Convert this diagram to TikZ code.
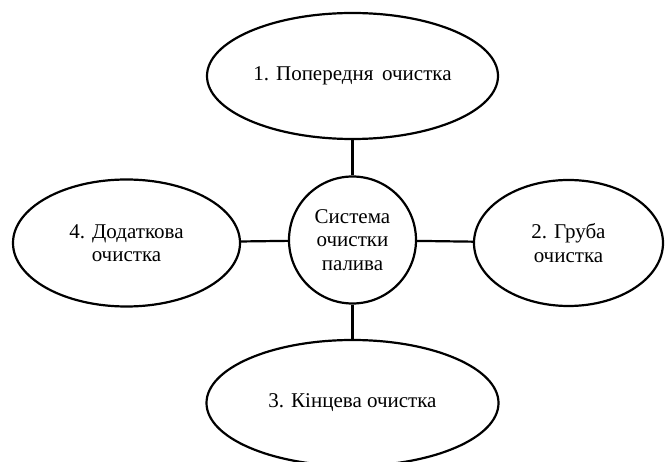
\documentclass[tikz,border=0pt]{standalone}
\usepackage{fontspec}
\setmainfont{Liberation Serif}
\usetikzlibrary{shapes.geometric}

\begin{document}
\begin{tikzpicture}[x=1pt, y=-1pt, line width=2.2pt, every node/.style={draw, ellipse, inner sep=0pt, align=center, font=\fontsize{21}{23.5}\selectfont}]
    \useasboundingbox (0,0) rectangle (665,462);
    \clip (0,0) rectangle (665,462);
    \node[circle, minimum size=127pt] (c) at (352.5,240) {Система\\очистки\\палива};
    \node[minimum width=291pt, minimum height=126pt] (t) at (352.5,76) {1. Попередня\ \,очистка};
    \node[minimum width=189pt, minimum height=126pt] (r) at (568.5,243) {2. Груба\\очистка};
    \node[minimum width=292pt, minimum height=126pt] (b) at (352.5,403) {3. Кінцева очистка};
    \node[minimum width=227pt, minimum height=127pt] (l) at (126.5,243) {4. Додаткова\\очистка};
    \draw (c) -- (t);
    \draw (c) -- (r);
    \draw (c) -- (b);
    \draw (c) -- (l);
\end{tikzpicture}
\end{document}
